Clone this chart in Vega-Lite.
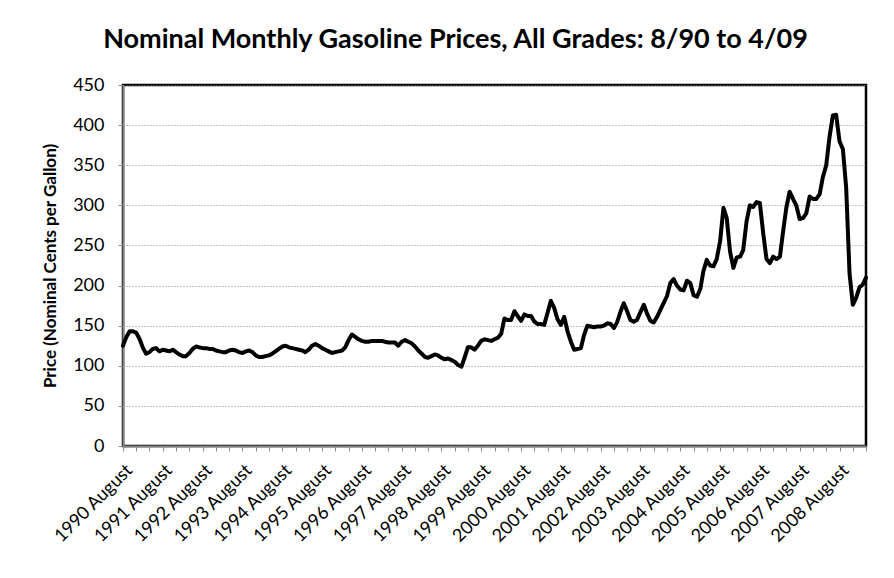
{
  "$schema": "https://vega.github.io/schema/vega-lite/v6.json",
  "width": 743,
  "height": 361,
  "autosize": "none",
  "padding": {"left": 123, "top": 85, "right": 28, "bottom": 132},
  "background": "white",
  "title": {
    "text": "Nominal Monthly Gasoline Prices, All Grades: 8/90 to 4/09",
    "font": "Lato",
    "fontSize": 27,
    "fontWeight": "bold",
    "color": "#000000",
    "anchor": "middle",
    "frame": "group",
    "dx": -39,
    "offset": 22
  },
  "config": {
    "view": {"stroke": "#000000", "strokeWidth": 2.5},
    "axis": {
      "labelFont": "Lato",
      "labelColor": "#000000",
      "titleFont": "Lato",
      "titleColor": "#000000",
      "domainColor": "#868686",
      "domainWidth": 2,
      "tickColor": "#868686",
      "tickWidth": 1,
      "tickSize": 5
    }
  },
  "data": {
    "values": [
      {"month": "1990-08-01", "price": 125},
      {"month": "1990-09-01", "price": 136},
      {"month": "1990-10-01", "price": 143},
      {"month": "1990-11-01", "price": 143},
      {"month": "1990-12-01", "price": 141},
      {"month": "1991-01-01", "price": 133},
      {"month": "1991-02-01", "price": 122},
      {"month": "1991-03-01", "price": 115},
      {"month": "1991-04-01", "price": 117},
      {"month": "1991-05-01", "price": 121},
      {"month": "1991-06-01", "price": 122},
      {"month": "1991-07-01", "price": 118},
      {"month": "1991-08-01", "price": 120},
      {"month": "1991-09-01", "price": 119},
      {"month": "1991-10-01", "price": 118},
      {"month": "1991-11-01", "price": 120},
      {"month": "1991-12-01", "price": 117},
      {"month": "1992-01-01", "price": 114},
      {"month": "1992-02-01", "price": 112},
      {"month": "1992-03-01", "price": 112},
      {"month": "1992-04-01", "price": 116},
      {"month": "1992-05-01", "price": 121},
      {"month": "1992-06-01", "price": 124},
      {"month": "1992-07-01", "price": 123},
      {"month": "1992-08-01", "price": 122},
      {"month": "1992-09-01", "price": 122},
      {"month": "1992-10-01", "price": 121},
      {"month": "1992-11-01", "price": 121},
      {"month": "1992-12-01", "price": 119},
      {"month": "1993-01-01", "price": 118},
      {"month": "1993-02-01", "price": 117},
      {"month": "1993-03-01", "price": 117},
      {"month": "1993-04-01", "price": 119},
      {"month": "1993-05-01", "price": 120},
      {"month": "1993-06-01", "price": 119},
      {"month": "1993-07-01", "price": 117},
      {"month": "1993-08-01", "price": 116},
      {"month": "1993-09-01", "price": 118},
      {"month": "1993-10-01", "price": 119},
      {"month": "1993-11-01", "price": 117},
      {"month": "1993-12-01", "price": 113},
      {"month": "1994-01-01", "price": 111},
      {"month": "1994-02-01", "price": 111},
      {"month": "1994-03-01", "price": 112},
      {"month": "1994-04-01", "price": 113},
      {"month": "1994-05-01", "price": 115},
      {"month": "1994-06-01", "price": 118},
      {"month": "1994-07-01", "price": 121},
      {"month": "1994-08-01", "price": 124},
      {"month": "1994-09-01", "price": 125},
      {"month": "1994-10-01", "price": 123},
      {"month": "1994-11-01", "price": 122},
      {"month": "1994-12-01", "price": 121},
      {"month": "1995-01-01", "price": 120},
      {"month": "1995-02-01", "price": 119},
      {"month": "1995-03-01", "price": 117},
      {"month": "1995-04-01", "price": 120},
      {"month": "1995-05-01", "price": 125},
      {"month": "1995-06-01", "price": 127},
      {"month": "1995-07-01", "price": 125},
      {"month": "1995-08-01", "price": 122},
      {"month": "1995-09-01", "price": 120},
      {"month": "1995-10-01", "price": 118},
      {"month": "1995-11-01", "price": 116},
      {"month": "1995-12-01", "price": 117},
      {"month": "1996-01-01", "price": 118},
      {"month": "1996-02-01", "price": 119},
      {"month": "1996-03-01", "price": 123},
      {"month": "1996-04-01", "price": 132},
      {"month": "1996-05-01", "price": 139},
      {"month": "1996-06-01", "price": 136},
      {"month": "1996-07-01", "price": 133},
      {"month": "1996-08-01", "price": 131},
      {"month": "1996-09-01", "price": 130},
      {"month": "1996-10-01", "price": 130},
      {"month": "1996-11-01", "price": 131},
      {"month": "1996-12-01", "price": 131},
      {"month": "1997-01-01", "price": 131},
      {"month": "1997-02-01", "price": 131},
      {"month": "1997-03-01", "price": 130},
      {"month": "1997-04-01", "price": 129},
      {"month": "1997-05-01", "price": 129},
      {"month": "1997-06-01", "price": 129},
      {"month": "1997-07-01", "price": 125},
      {"month": "1997-08-01", "price": 130},
      {"month": "1997-09-01", "price": 132},
      {"month": "1997-10-01", "price": 130},
      {"month": "1997-11-01", "price": 128},
      {"month": "1997-12-01", "price": 124},
      {"month": "1998-01-01", "price": 119},
      {"month": "1998-02-01", "price": 115},
      {"month": "1998-03-01", "price": 111},
      {"month": "1998-04-01", "price": 110},
      {"month": "1998-05-01", "price": 112},
      {"month": "1998-06-01", "price": 114},
      {"month": "1998-07-01", "price": 113},
      {"month": "1998-08-01", "price": 110},
      {"month": "1998-09-01", "price": 108},
      {"month": "1998-10-01", "price": 109},
      {"month": "1998-11-01", "price": 107},
      {"month": "1998-12-01", "price": 105},
      {"month": "1999-01-01", "price": 101},
      {"month": "1999-02-01", "price": 99},
      {"month": "1999-03-01", "price": 110},
      {"month": "1999-04-01", "price": 123},
      {"month": "1999-05-01", "price": 123},
      {"month": "1999-06-01", "price": 120},
      {"month": "1999-07-01", "price": 125},
      {"month": "1999-08-01", "price": 131},
      {"month": "1999-09-01", "price": 133},
      {"month": "1999-10-01", "price": 132},
      {"month": "1999-11-01", "price": 131},
      {"month": "1999-12-01", "price": 133},
      {"month": "2000-01-01", "price": 135},
      {"month": "2000-02-01", "price": 140},
      {"month": "2000-03-01", "price": 159},
      {"month": "2000-04-01", "price": 157},
      {"month": "2000-05-01", "price": 157},
      {"month": "2000-06-01", "price": 168},
      {"month": "2000-07-01", "price": 162},
      {"month": "2000-08-01", "price": 156},
      {"month": "2000-09-01", "price": 164},
      {"month": "2000-10-01", "price": 162},
      {"month": "2000-11-01", "price": 162},
      {"month": "2000-12-01", "price": 155},
      {"month": "2001-01-01", "price": 152},
      {"month": "2001-02-01", "price": 152},
      {"month": "2001-03-01", "price": 151},
      {"month": "2001-04-01", "price": 166},
      {"month": "2001-05-01", "price": 181},
      {"month": "2001-06-01", "price": 172},
      {"month": "2001-07-01", "price": 158},
      {"month": "2001-08-01", "price": 151},
      {"month": "2001-09-01", "price": 161},
      {"month": "2001-10-01", "price": 143},
      {"month": "2001-11-01", "price": 130},
      {"month": "2001-12-01", "price": 120},
      {"month": "2002-01-01", "price": 121},
      {"month": "2002-02-01", "price": 122},
      {"month": "2002-03-01", "price": 138},
      {"month": "2002-04-01", "price": 150},
      {"month": "2002-05-01", "price": 149},
      {"month": "2002-06-01", "price": 148},
      {"month": "2002-07-01", "price": 149},
      {"month": "2002-08-01", "price": 149},
      {"month": "2002-09-01", "price": 150},
      {"month": "2002-10-01", "price": 153},
      {"month": "2002-11-01", "price": 152},
      {"month": "2002-12-01", "price": 147},
      {"month": "2003-01-01", "price": 155},
      {"month": "2003-02-01", "price": 168},
      {"month": "2003-03-01", "price": 178},
      {"month": "2003-04-01", "price": 168},
      {"month": "2003-05-01", "price": 157},
      {"month": "2003-06-01", "price": 155},
      {"month": "2003-07-01", "price": 157},
      {"month": "2003-08-01", "price": 167},
      {"month": "2003-09-01", "price": 176},
      {"month": "2003-10-01", "price": 165},
      {"month": "2003-11-01", "price": 156},
      {"month": "2003-12-01", "price": 154},
      {"month": "2004-01-01", "price": 161},
      {"month": "2004-02-01", "price": 170},
      {"month": "2004-03-01", "price": 178},
      {"month": "2004-04-01", "price": 187},
      {"month": "2004-05-01", "price": 203},
      {"month": "2004-06-01", "price": 208},
      {"month": "2004-07-01", "price": 200},
      {"month": "2004-08-01", "price": 195},
      {"month": "2004-09-01", "price": 194},
      {"month": "2004-10-01", "price": 206},
      {"month": "2004-11-01", "price": 203},
      {"month": "2004-12-01", "price": 188},
      {"month": "2005-01-01", "price": 186},
      {"month": "2005-02-01", "price": 196},
      {"month": "2005-03-01", "price": 218},
      {"month": "2005-04-01", "price": 232},
      {"month": "2005-05-01", "price": 225},
      {"month": "2005-06-01", "price": 224},
      {"month": "2005-07-01", "price": 233},
      {"month": "2005-08-01", "price": 255},
      {"month": "2005-09-01", "price": 297},
      {"month": "2005-10-01", "price": 284},
      {"month": "2005-11-01", "price": 242},
      {"month": "2005-12-01", "price": 222},
      {"month": "2006-01-01", "price": 235},
      {"month": "2006-02-01", "price": 236},
      {"month": "2006-03-01", "price": 244},
      {"month": "2006-04-01", "price": 280},
      {"month": "2006-05-01", "price": 300},
      {"month": "2006-06-01", "price": 298},
      {"month": "2006-07-01", "price": 304},
      {"month": "2006-08-01", "price": 303},
      {"month": "2006-09-01", "price": 265},
      {"month": "2006-10-01", "price": 233},
      {"month": "2006-11-01", "price": 228},
      {"month": "2006-12-01", "price": 236},
      {"month": "2007-01-01", "price": 233},
      {"month": "2007-02-01", "price": 236},
      {"month": "2007-03-01", "price": 266},
      {"month": "2007-04-01", "price": 297},
      {"month": "2007-05-01", "price": 317},
      {"month": "2007-06-01", "price": 308},
      {"month": "2007-07-01", "price": 300},
      {"month": "2007-08-01", "price": 283},
      {"month": "2007-09-01", "price": 284},
      {"month": "2007-10-01", "price": 290},
      {"month": "2007-11-01", "price": 311},
      {"month": "2007-12-01", "price": 308},
      {"month": "2008-01-01", "price": 308},
      {"month": "2008-02-01", "price": 314},
      {"month": "2008-03-01", "price": 335},
      {"month": "2008-04-01", "price": 350},
      {"month": "2008-05-01", "price": 385},
      {"month": "2008-06-01", "price": 412},
      {"month": "2008-07-01", "price": 413},
      {"month": "2008-08-01", "price": 380},
      {"month": "2008-09-01", "price": 370},
      {"month": "2008-10-01", "price": 322},
      {"month": "2008-11-01", "price": 215},
      {"month": "2008-12-01", "price": 176},
      {"month": "2009-01-01", "price": 185},
      {"month": "2009-02-01", "price": 198},
      {"month": "2009-03-01", "price": 201},
      {"month": "2009-04-01", "price": 210}
    ]
  },
  "mark": {"type": "line", "color": "#000000", "strokeWidth": 4, "strokeJoin": "round", "strokeCap": "round"},
  "encoding": {
    "x": {
      "field": "month",
      "type": "temporal",
      "scale": {"type": "utc", "domain": [{"year": 1990, "month": 8, "date": 1, "utc": true}, {"year": 2009, "month": 4, "date": 1, "utc": true}], "nice": false},
      "axis": {
        "title": null,
        "grid": false,
        "values": [
          {"year": 1990, "month": 8, "date": 1, "utc": true}, {"year": 1990, "month": 12, "date": 1, "utc": true}, {"year": 1991, "month": 4, "date": 1, "utc": true},
          {"year": 1991, "month": 8, "date": 1, "utc": true}, {"year": 1991, "month": 12, "date": 1, "utc": true}, {"year": 1992, "month": 4, "date": 1, "utc": true},
          {"year": 1992, "month": 8, "date": 1, "utc": true}, {"year": 1992, "month": 12, "date": 1, "utc": true}, {"year": 1993, "month": 4, "date": 1, "utc": true},
          {"year": 1993, "month": 8, "date": 1, "utc": true}, {"year": 1993, "month": 12, "date": 1, "utc": true}, {"year": 1994, "month": 4, "date": 1, "utc": true},
          {"year": 1994, "month": 8, "date": 1, "utc": true}, {"year": 1994, "month": 12, "date": 1, "utc": true}, {"year": 1995, "month": 4, "date": 1, "utc": true},
          {"year": 1995, "month": 8, "date": 1, "utc": true}, {"year": 1995, "month": 12, "date": 1, "utc": true}, {"year": 1996, "month": 4, "date": 1, "utc": true},
          {"year": 1996, "month": 8, "date": 1, "utc": true}, {"year": 1996, "month": 12, "date": 1, "utc": true}, {"year": 1997, "month": 4, "date": 1, "utc": true},
          {"year": 1997, "month": 8, "date": 1, "utc": true}, {"year": 1997, "month": 12, "date": 1, "utc": true}, {"year": 1998, "month": 4, "date": 1, "utc": true},
          {"year": 1998, "month": 8, "date": 1, "utc": true}, {"year": 1998, "month": 12, "date": 1, "utc": true}, {"year": 1999, "month": 4, "date": 1, "utc": true},
          {"year": 1999, "month": 8, "date": 1, "utc": true}, {"year": 1999, "month": 12, "date": 1, "utc": true}, {"year": 2000, "month": 4, "date": 1, "utc": true},
          {"year": 2000, "month": 8, "date": 1, "utc": true}, {"year": 2000, "month": 12, "date": 1, "utc": true}, {"year": 2001, "month": 4, "date": 1, "utc": true},
          {"year": 2001, "month": 8, "date": 1, "utc": true}, {"year": 2001, "month": 12, "date": 1, "utc": true}, {"year": 2002, "month": 4, "date": 1, "utc": true},
          {"year": 2002, "month": 8, "date": 1, "utc": true}, {"year": 2002, "month": 12, "date": 1, "utc": true}, {"year": 2003, "month": 4, "date": 1, "utc": true},
          {"year": 2003, "month": 8, "date": 1, "utc": true}, {"year": 2003, "month": 12, "date": 1, "utc": true}, {"year": 2004, "month": 4, "date": 1, "utc": true},
          {"year": 2004, "month": 8, "date": 1, "utc": true}, {"year": 2004, "month": 12, "date": 1, "utc": true}, {"year": 2005, "month": 4, "date": 1, "utc": true},
          {"year": 2005, "month": 8, "date": 1, "utc": true}, {"year": 2005, "month": 12, "date": 1, "utc": true}, {"year": 2006, "month": 4, "date": 1, "utc": true},
          {"year": 2006, "month": 8, "date": 1, "utc": true}, {"year": 2006, "month": 12, "date": 1, "utc": true}, {"year": 2007, "month": 4, "date": 1, "utc": true},
          {"year": 2007, "month": 8, "date": 1, "utc": true}, {"year": 2007, "month": 12, "date": 1, "utc": true}, {"year": 2008, "month": 4, "date": 1, "utc": true},
          {"year": 2008, "month": 8, "date": 1, "utc": true}, {"year": 2008, "month": 12, "date": 1, "utc": true}, {"year": 2009, "month": 4, "date": 1, "utc": true}
        ],
        "labelExpr": "utcmonth(datum.value) == 7 ? utcFormat(datum.value, '%Y %B') : ''",
        "labelAngle": -45,
        "labelFontSize": 18,
        "labelOverlap": false,
        "labelFlush": false,
        "labelPadding": 10
      }
    },
    "y": {
      "field": "price",
      "type": "quantitative",
      "scale": {"domain": [0, 450], "nice": false},
      "axis": {
        "title": "Price (Nominal Cents per Gallon)",
        "titleFontSize": 17,
        "titleFontWeight": "bold",
        "titlePadding": 13,
        "values": [0, 50, 100, 150, 200, 250, 300, 350, 400, 450],
        "labelFontSize": 18,
        "labelPadding": 14,
        "grid": true,
        "gridColor": "#8c8c8c",
        "gridDash": [1, 2],
        "gridWidth": 1
      }
    }
  }
}
